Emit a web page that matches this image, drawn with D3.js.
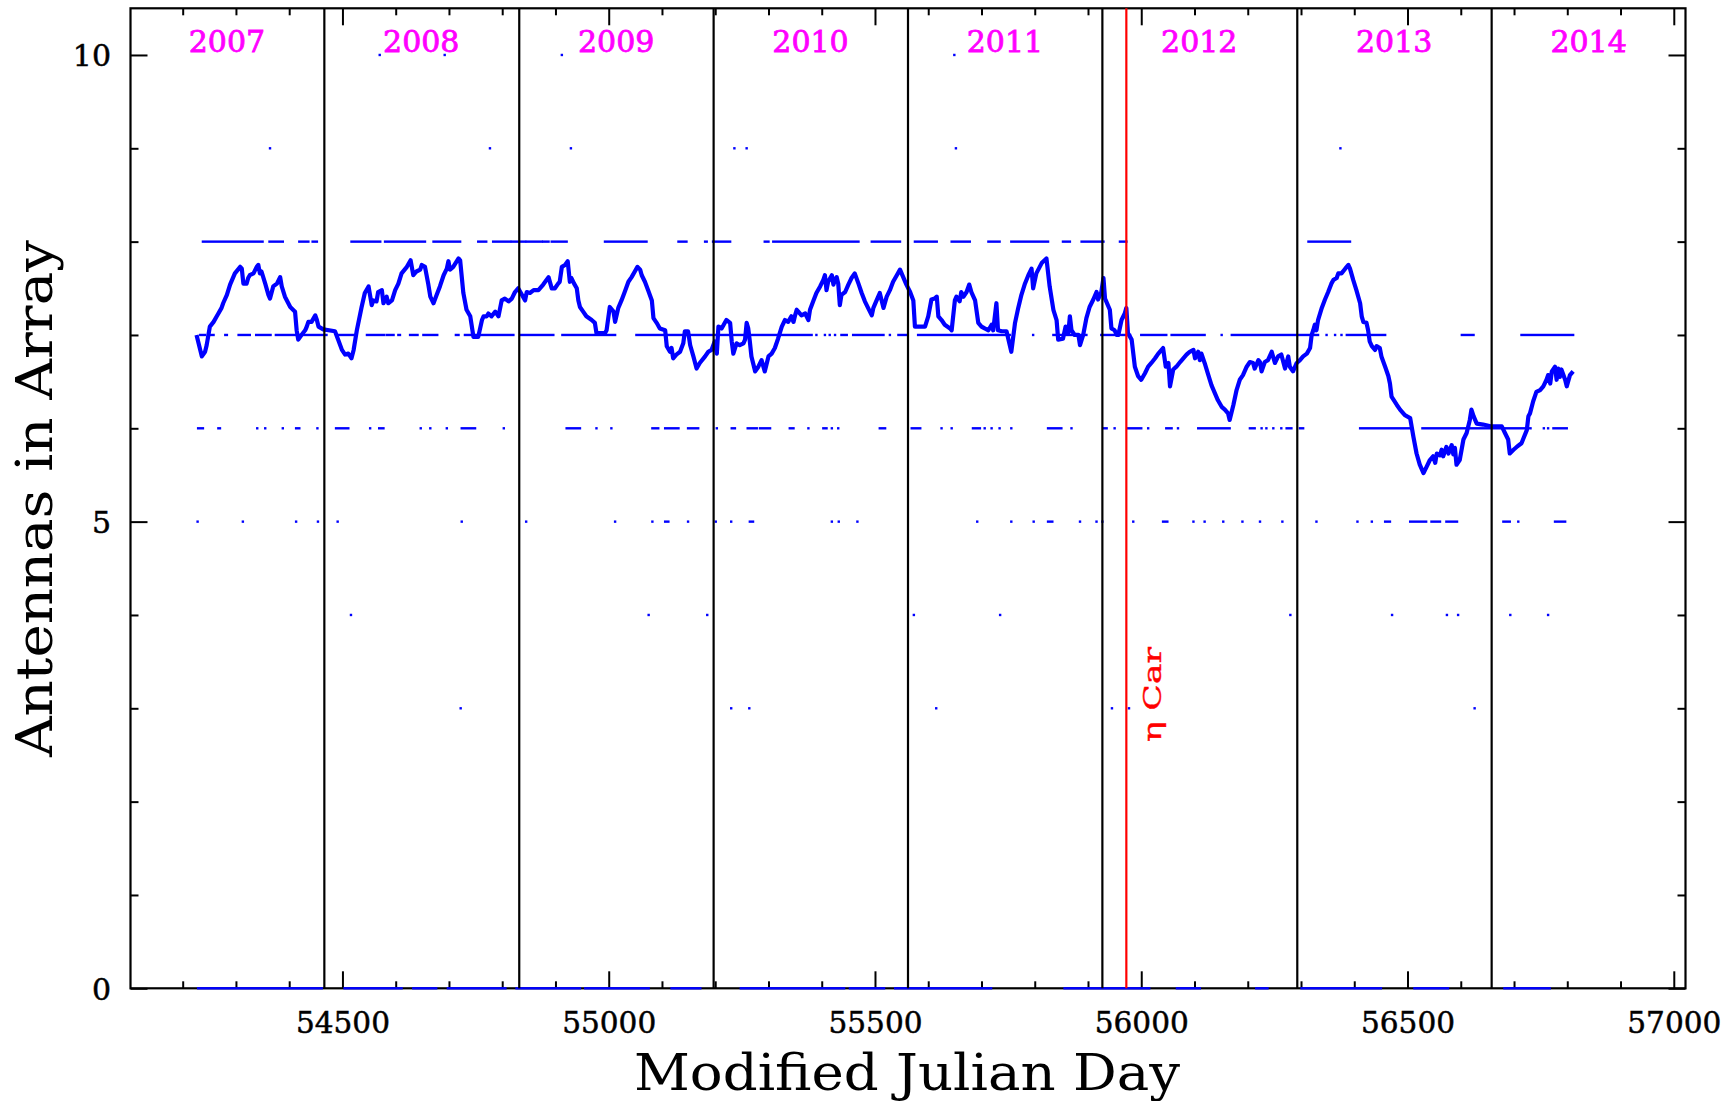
<!doctype html>
<meta charset="utf-8">
<style>
  body { margin: 0; background: #fff; }
  svg { display: block; }
  text { font-family: "DejaVu Serif", serif; }
</style>
<body>
<script src="https://cdn.jsdelivr.net/npm/d3@7"></script>
<script>

// running mean of antennas in the array, [MJD, antennas]
const meanCurve = [
  [54226,7.00],[54236,6.77],[54242,6.82],[54245,6.89],[54251,7.09],[54258,7.14],[54264,7.20],[54267,7.23],[54273,7.29],[54276,7.34],
  [54283,7.43],[54289,7.54],[54298,7.66],[54308,7.73],[54311,7.71],[54314,7.55],[54320,7.55],[54323,7.61],[54326,7.64],[54333,7.66],
  [54339,7.73],[54342,7.75],[54345,7.66],[54348,7.68],[54355,7.55],[54361,7.43],[54364,7.39],[54370,7.52],[54377,7.55],[54383,7.62],
  [54386,7.52],[54392,7.41],[54402,7.30],[54411,7.25],[54414,7.05],[54417,6.95],[54423,7.00],[54430,7.05],[54433,7.09],[54436,7.14],
  [54442,7.14],[54449,7.21],[54452,7.16],[54455,7.09],[54464,7.06],[54486,7.04],[54492,6.95],[54499,6.84],[54505,6.79],[54511,6.80],
  [54517,6.75],[54521,6.84],[54527,7.05],[54536,7.30],[54542,7.45],[54549,7.52],[54555,7.32],[54558,7.37],[54564,7.36],[54567,7.46],
  [54574,7.48],[54577,7.34],[54583,7.41],[54586,7.34],[54593,7.37],[54599,7.48],[54605,7.55],[54611,7.66],[54621,7.73],[54628,7.80],
  [54633,7.64],[54639,7.68],[54646,7.70],[54649,7.75],[54655,7.73],[54661,7.55],[54665,7.41],[54671,7.34],[54677,7.43],[54683,7.52],
  [54690,7.64],[54696,7.71],[54699,7.79],[54702,7.70],[54708,7.73],[54718,7.82],[54721,7.80],[54727,7.45],[54733,7.27],[54740,7.20],
  [54746,6.98],[54755,6.98],[54762,7.16],[54765,7.20],[54771,7.20],[54774,7.23],[54780,7.20],[54787,7.25],[54793,7.20],[54799,7.37],
  [54805,7.39],[54812,7.36],[54818,7.39],[54824,7.46],[54830,7.50],[54837,7.43],[54843,7.37],[54846,7.46],[54852,7.45],[54859,7.48],
  [54868,7.48],[54877,7.54],[54887,7.62],[54893,7.50],[54899,7.50],[54905,7.55],[54908,7.57],[54912,7.73],[54918,7.75],[54923,7.79],
  [54927,7.57],[54930,7.61],[54935,7.55],[54940,7.50],[54943,7.37],[54946,7.30],[54952,7.25],[54958,7.20],[54968,7.16],[54974,7.13],
  [54977,7.02],[54993,7.02],[54996,7.05],[55002,7.30],[55009,7.25],[55012,7.14],[55018,7.29],[55024,7.37],[55030,7.46],[55037,7.57],
  [55043,7.62],[55049,7.68],[55054,7.73],[55059,7.70],[55062,7.64],[55068,7.57],[55074,7.48],[55081,7.37],[55084,7.18],[55090,7.13],
  [55096,7.07],[55106,7.05],[55109,6.88],[55115,6.82],[55118,6.86],[55121,6.75],[55127,6.79],[55134,6.82],[55140,6.91],[55143,7.04],
  [55149,7.04],[55153,6.89],[55159,6.77],[55165,6.64],[55171,6.70],[55181,6.77],[55187,6.82],[55193,6.84],[55199,6.93],[55203,6.80],
  [55206,7.09],[55212,7.07],[55218,7.13],[55221,7.16],[55228,7.13],[55231,6.93],[55234,6.80],[55240,6.91],[55246,6.89],[55253,6.91],
  [55256,6.95],[55259,7.13],[55262,7.07],[55265,6.93],[55268,6.77],[55275,6.61],[55281,6.66],[55287,6.73],[55293,6.61],[55300,6.77],
  [55306,6.80],[55312,6.86],[55318,6.96],[55325,7.09],[55331,7.16],[55337,7.14],[55343,7.20],[55347,7.14],[55350,7.21],[55353,7.27],
  [55356,7.25],[55362,7.21],[55369,7.23],[55375,7.16],[55378,7.27],[55384,7.36],[55390,7.45],[55397,7.52],[55403,7.59],[55406,7.64],
  [55409,7.48],[55412,7.57],[55419,7.64],[55422,7.54],[55425,7.59],[55428,7.62],[55431,7.55],[55434,7.32],[55437,7.43],[55444,7.46],
  [55450,7.54],[55456,7.61],[55462,7.66],[55469,7.55],[55475,7.45],[55481,7.36],[55487,7.29],[55494,7.21],[55497,7.29],[55503,7.37],
  [55509,7.45],[55516,7.29],[55522,7.41],[55528,7.48],[55534,7.57],[55541,7.64],[55547,7.70],[55553,7.62],[55559,7.54],[55566,7.46],
  [55572,7.37],[55575,7.09],[55581,7.09],[55588,7.09],[55594,7.09],[55600,7.20],[55606,7.38],[55612,7.39],[55616,7.41],[55619,7.20],
  [55625,7.16],[55631,7.11],[55641,7.07],[55644,7.05],[55650,7.37],[55653,7.41],[55659,7.36],[55662,7.46],[55666,7.41],[55672,7.46],
  [55677,7.54],[55681,7.46],[55688,7.37],[55694,7.13],[55700,7.09],[55706,7.07],[55713,7.05],[55719,7.11],[55722,7.05],[55728,7.34],
  [55731,7.05],[55738,7.04],[55747,7.04],[55756,6.82],[55763,7.13],[55769,7.29],[55775,7.43],[55781,7.54],[55788,7.64],[55794,7.71],
  [55797,7.50],[55803,7.66],[55813,7.77],[55822,7.82],[55828,7.52],[55835,7.27],[55841,7.16],[55844,6.95],[55853,6.96],[55858,7.09],
  [55863,7.02],[55866,7.20],[55869,7.05],[55875,7.00],[55882,7.00],[55885,6.89],[55891,7.00],[55897,7.18],[55903,7.30],[55910,7.38],
  [55916,7.46],[55919,7.38],[55925,7.46],[55929,7.61],[55932,7.39],[55941,7.27],[55944,7.07],[55950,7.05],[55954,7.00],[55957,7.00],
  [55963,7.16],[55969,7.23],[55972,7.29],[55975,7.02],[55982,6.95],[55988,6.66],[55994,6.56],[56000,6.52],[56007,6.59],[56013,6.66],
  [56019,6.70],[56026,6.75],[56032,6.80],[56041,6.86],[56046,6.66],[56051,6.70],[56054,6.45],[56060,6.63],[56066,6.66],[56073,6.71],
  [56079,6.75],[56085,6.79],[56091,6.82],[56098,6.84],[56101,6.75],[56107,6.82],[56110,6.73],[56113,6.80],[56119,6.70],[56126,6.57],
  [56132,6.46],[56138,6.38],[56144,6.30],[56151,6.23],[56157,6.20],[56163,6.16],[56166,6.09],[56173,6.25],[56179,6.41],[56185,6.52],
  [56191,6.57],[56198,6.66],[56204,6.71],[56210,6.70],[56213,6.64],[56220,6.73],[56223,6.71],[56226,6.61],[56232,6.71],[56238,6.73],
  [56245,6.82],[56251,6.70],[56257,6.77],[56263,6.79],[56270,6.64],[56276,6.77],[56279,6.66],[56285,6.61],[56292,6.70],[56298,6.73],
  [56304,6.77],[56311,6.80],[56317,6.86],[56320,7.00],[56323,7.05],[56326,7.11],[56329,7.05],[56332,7.16],[56339,7.29],[56345,7.38],
  [56351,7.46],[56357,7.55],[56361,7.59],[56367,7.61],[56370,7.66],[56376,7.66],[56383,7.71],[56389,7.75],[56392,7.71],[56398,7.59],
  [56404,7.48],[56411,7.34],[56414,7.20],[56417,7.14],[56423,7.13],[56426,7.05],[56429,6.93],[56433,6.88],[56439,6.84],[56442,6.88],
  [56448,6.86],[56451,6.77],[56458,6.66],[56464,6.56],[56467,6.48],[56470,6.34],[56480,6.25],[56486,6.20],[56495,6.14],[56505,6.11],
  [56511,5.91],[56517,5.73],[56523,5.61],[56530,5.52],[56536,5.59],[56542,5.66],[56548,5.70],[56552,5.63],[56555,5.73],[56561,5.71],
  [56564,5.77],[56567,5.70],[56573,5.80],[56577,5.73],[56583,5.82],[56586,5.72],[56589,5.79],[56592,5.61],[56598,5.66],[56605,5.88],
  [56611,5.95],[56617,6.09],[56620,6.20],[56624,6.13],[56630,6.05],[56642,6.04],[56658,6.02],[56677,6.02],[56683,5.95],[56689,5.88],
  [56692,5.73],[56699,5.77],[56705,5.80],[56714,5.84],[56724,5.98],[56727,6.13],[56730,6.16],[56736,6.29],[56742,6.39],[56749,6.41],
  [56755,6.45],[56761,6.52],[56764,6.57],[56768,6.48],[56771,6.61],[56777,6.66],[56780,6.52],[56783,6.64],[56786,6.55],[56789,6.63],
  [56796,6.52],[56799,6.45],[56805,6.57],[56811,6.61]
];

// daily antenna counts: runs of days [first MJD, last MJD] (single days as one number)
const days10 = [54570, 54692, 54912, 55649];
const days9 = [54364, 54777, 54929, 55236, 55259, 55652, 56374];
const days8 = [[54238,54350],[54363,54388],[54419,54436],[54444,54452],[54517,54571],[54580,54655],[54671,54721],[54755,54770],
  [54783,54815],[54818,54843],[54846,54874],[54877,54887],[54893,54921],[54993,55071],[55131,55146],[55181,55184],[55196,55228],
  [55293,55300],[55309,55469],[55494,55547],[55575,55616],[55644,55678],[55713,55734],[55756,55825],[55853,55866],[55888,55929],
  [55960,55972],[56314,56392]];
const days7 = [[54233,54242],[54251,54258],[54280,54283],[54305,54326],[54338,54365],[54375,54470],[54489,54524],[54546,54578],
  [54583,54596],[54605,54608],[54627,54641],[54652,54678],[54713,54718],[54730,54821],[54834,54896],[54913,55012],[55052,55381],
  55390, 55406, 55415, 55425, [55437,55447],[55459,55516], 55528, [55544,55559],[55581,55753], 55797, [55835,55897],[55925,55979],
  [56000,56047],[56057,56119], 56151, [56170,56332], 56348, 56364, 56376, [56386,56458],[56602,56624],[56714,56811]];
const days6 = [[54229,54238],[54267,54270], 54340, 54355, 54388, [54413,54419], 54453, [54488,54511], 54552, [54569,54577], 54647,
  54665, 54696, [54724,54749], 54803, [54921,54946], 54977, 55005, [55082,55093],[55106,55131],[55149,55168], 55203, [55231,55237],
  [55261,55278],[55284,55303],[55340,55347], 55375, [55403,55409], 55419, 55431, [55509,55519],[55569,55585], 55625, 55644,
  [55684,55697], 55706, 55719, 55734, 55756, [55825,55850], 55869, [55929,55935], 55950, [55975,56000], 56013, [56047,56057], 56069,
  [56107,56166],[56204,56213], 56226, 56235, 56248, 56263, [56273,56282],[56298,56304],[56411,56505],[56528,56731], 56756, 56764,
  [56774,56799]];
const days5 = [54228, 54313, 54413, 54454, 54491, 54724, 54845, 55012, 55082, [55106,55112], 55149, 55201, 55230, [55265,55271],
  55419, 55432, 55467, 55692, 55756, 55798, [55825,55833], 55885, 55916, 55927, 55985, [56041,56049], 56098, 56119, 56154, 56190,
  56223, 56265, 56329, 56406, 56433, [56458,56467],[56505,56535],[56545,56561],[56573,56593],[56680,56692], 56708, [56777,56796]];
const days4 = [54516, 55075, 55185, 55573, 55735, 56280, 56471, 56574, 56595, 56693, 56764];
const days3 = [54722, 55230, 55264, 55615, 55945, 55977, 56626];
const days0 = [[54229,54461],[54504,54611],[54633,54676],[54698,54806],[54827,54946],[54956,55075],[55118,55172],[55248,55442],
  [55453,55517],[55538,55718],[55856,56015],[56067,56110],[56216,56237],[56301,56450],[56513,56576],[56682,56767]];

// calendar
const yearStarts = [54466, 54832, 55197, 55562, 55927, 56293, 56658];
const yearNames = ["2007", "2008", "2009", "2010", "2011", "2012", "2013", "2014"];
const yearMids = [54283, 54648, 55014, 55379, 55744, 56109, 56475, 56840];
const etaCar = 55972;

const xMajor = [54500, 55000, 55500, 56000, 56500, 57000];
const yMajor = [0, 5, 10];

const W = 1735, H = 1101;
const margin = {top: 8.3, right: 49.5, bottom: 112.7, left: 130.5};
const iw = W - margin.left - margin.right,
      ih = H - margin.top - margin.bottom;

const x = d3.scaleLinear().domain([54102, 57022]).range([0, iw]);
const y = d3.scaleLinear().domain([0, 10.5]).range([ih, 0]);

const svg = d3.select("body").append("svg")
    .attr("width", W)
    .attr("height", H);

const g = svg.append("g")
    .attr("transform", "translate(" + margin.left + "," + margin.top + ")");

const xMinor = d3.range(54200, 57001, 100).filter(v => v % 500 !== 0);
const yMinor = d3.range(0, 11).filter(v => v % 5 !== 0);

function styleAxis(sel) {
  sel.select(".domain").remove();
  sel.selectAll(".tick line").attr("stroke", "#000").attr("stroke-width", 2);
}

// bottom
g.append("g").attr("transform", "translate(0," + ih + ")")
  .call(d3.axisBottom(x).tickValues(xMinor).tickSize(-7).tickFormat(""))
  .call(styleAxis);
const xb = g.append("g").attr("transform", "translate(0," + ih + ")")
  .call(d3.axisBottom(x).tickValues(xMajor).tickSize(-17).tickFormat(d3.format("d")))
  .call(styleAxis);
xb.selectAll("text")
  .attr("y", 44.4).attr("dy", 0)
  .attr("fill", "#000")
  .attr("stroke", "#000").attr("stroke-width", 0.5)
  .attr("textLength", 94)
  .attr("lengthAdjust", "spacingAndGlyphs")
  .style("font-size", "30px")
  .style("font-family", "'DejaVu Serif', serif");

// top
g.append("g")
  .call(d3.axisTop(x).tickValues(xMinor).tickSize(-7).tickFormat(""))
  .call(styleAxis);
g.append("g")
  .call(d3.axisTop(x).tickValues(xMajor).tickSize(-17).tickFormat(""))
  .call(styleAxis);

// left
g.append("g")
  .call(d3.axisLeft(y).tickValues(yMinor).tickSize(-8).tickFormat(""))
  .call(styleAxis);
const yl = g.append("g")
  .call(d3.axisLeft(y).tickValues(yMajor).tickSize(-17).tickPadding(19.5).tickFormat(d3.format("d")))
  .call(styleAxis);
yl.selectAll("text")
  .attr("x", -19.5)
  .attr("dy", "0.36em")
  .attr("fill", "#000")
  .attr("stroke", "#000").attr("stroke-width", 0.5)
  .style("font-size", "30px")
  .style("font-family", "'DejaVu Serif', serif");

// right
g.append("g").attr("transform", "translate(" + iw + ",0)")
  .call(d3.axisRight(y).tickValues(yMinor).tickSize(-8).tickFormat(""))
  .call(styleAxis);
g.append("g").attr("transform", "translate(" + iw + ",0)")
  .call(d3.axisRight(y).tickValues(yMajor).tickSize(-17).tickFormat(""))
  .call(styleAxis);

// frame
g.append("rect")
  .attr("width", iw).attr("height", ih)
  .attr("fill", "none").attr("stroke", "#000").attr("stroke-width", 2.2);

// mean curve
g.append("path")
  .datum(meanCurve)
  .attr("fill", "none")
  .attr("stroke", "#0000ff")
  .attr("stroke-width", 4.2)
  .attr("stroke-linejoin", "round")
  .attr("d", d3.line().x(d => x(d[0])).y(d => y(d[1])));

// daily counts
const levels = [
  {n: 10, days: days10}, {n: 9, days: days9}, {n: 8, days: days8}, {n: 7, days: days7},
  {n: 6, days: days6}, {n: 5, days: days5}, {n: 4, days: days4}, {n: 3, days: days3}, {n: 0, days: days0}
];
const runs = [];
levels.forEach(l => l.days.forEach(d => {
  const r = Array.isArray(d) ? d : [d, d];
  runs.push({n: l.n, a: r[0], b: r[1]});
}));

g.append("g").selectAll("rect")
  .data(runs)
  .enter().append("rect")
    .attr("x", d => x(d.a) - 1.2)
    .attr("width", d => x(d.b) - x(d.a) + 2.4)
    .attr("y", d => y(d.n) - 1.2)
    .attr("height", 2.4)
    .attr("fill", "#0000ff");

// year boundaries
g.append("g").selectAll("line")
  .data(yearStarts)
  .enter().append("line")
    .attr("x1", d => x(d)).attr("x2", d => x(d))
    .attr("y1", 0).attr("y2", ih)
    .attr("stroke", "#000").attr("stroke-width", 2.2);

g.append("g").selectAll("text")
  .data(yearNames)
  .enter().append("text")
    .attr("x", (d, i) => x(yearMids[i]))
    .attr("y", 52.3 - margin.top)
    .attr("text-anchor", "middle")
    .attr("fill", "#ff00ff")
    .attr("stroke", "#ff00ff").attr("stroke-width", 0.8)
    .style("font-size", "30px")
    .text(d => d);

// eta Car marker
g.append("line")
  .attr("x1", x(etaCar)).attr("x2", x(etaCar))
  .attr("y1", 0).attr("y2", ih)
  .attr("stroke", "#ff0000").attr("stroke-width", 2.2);

g.append("text")
  .attr("transform", "translate(" + (x(etaCar) + 35) + "," + (742 - margin.top) + ") rotate(-90)")
  .attr("text-anchor", "start")
  .attr("fill", "#ff0000")
  .attr("stroke", "#ff0000").attr("stroke-width", 0.4)
  .attr("textLength", 95)
  .attr("lengthAdjust", "spacingAndGlyphs")
  .style("font-size", "25px")
  .text("\u03b7 Car");

// axis titles
svg.append("text")
  .attr("x", 907).attr("y", 1090)
  .attr("text-anchor", "middle")
  .attr("textLength", 546)
  .attr("lengthAdjust", "spacingAndGlyphs")
  .style("font-size", "50px")
  .text("Modified Julian Day");

svg.append("text")
  .attr("transform", "translate(52,498.5) rotate(-90)")
  .attr("text-anchor", "middle")
  .attr("textLength", 517)
  .attr("lengthAdjust", "spacingAndGlyphs")
  .style("font-size", "50px")
  .text("Antennas in Array");

</script>
</body>
